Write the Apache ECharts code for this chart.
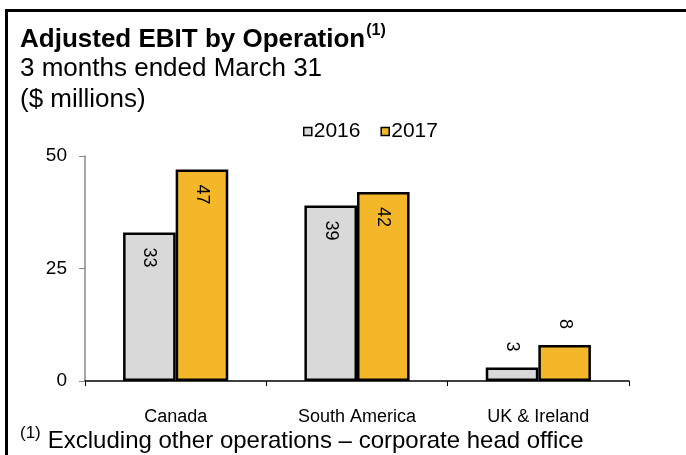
<!DOCTYPE html>
<html>
<head>
<meta charset="utf-8">
<script src="https://cdn.jsdelivr.net/npm/echarts@6/dist/echarts.min.js"></script>
<style>
html,body{margin:0;padding:0;background:#fff;}
#chart{width:686px;height:455px;}
</style>
</head>
<body>
<div id="chart"></div>
<script>
const categories = ['Canada', 'South America', 'UK & Ireland'];
const seriesNames = ['2016', '2017'];
const values2016 = [33, 39, 3];
const values2017 = [47, 42, 8];
const yTicks = [0, 25, 50];

const FONT = 'Liberation Sans, Arial, sans-serif';
const colors = ['#D9D9D9', '#F4B72A'];

function makeData(vals) {
  return vals.map(v => {
    const inside = v > 15;
    return {
      value: v,
      label: inside
        ? { position: 'insideTop', distance: 15, align: 'left', verticalAlign: 'middle' }
        : { position: 'top', distance: 16, align: 'right', verticalAlign: 'middle' }
    };
  });
}

const chart = echarts.init(document.getElementById('chart'), null, { renderer: 'canvas' });
const barStyle = (c) => ({ color: c, borderColor: '#000', borderWidth: 2.5 });
const labelBase = { show: true, rotate: -90, color: '#000', fontSize: 18, fontFamily: FONT };

chart.setOption({
  animation: false,
  backgroundColor: '#fff',
  textStyle: { fontFamily: FONT },
  grid: { left: 85, right: 57, top: 156, bottom: 74, containLabel: false },
  legend: {
    data: seriesNames,
    left: 298, top: 116,
    itemWidth: 8, itemHeight: 8, itemGap: 20,
    icon: 'rect',
    textStyle: { fontSize: 21, color: '#000', fontFamily: FONT, padding: [0, 0, 0, -3] },
    itemStyle: { borderColor: '#000', borderWidth: 1.5 }
  },
  xAxis: {
    type: 'category',
    data: categories,
    axisLine: { lineStyle: { color: '#000', width: 1.5 } },
    axisTick: { show: true, length: 5, lineStyle: { color: '#000' } },
    axisLabel: { color: '#000', fontSize: 18, fontFamily: FONT, margin: 27 }
  },
  yAxis: {
    type: 'value',
    min: yTicks[0], max: yTicks[yTicks.length - 1], interval: yTicks[1] - yTicks[0],
    axisLine: { show: true, lineStyle: { color: '#888', width: 1.5 } },
    axisTick: { show: true, length: 6, lineStyle: { color: '#888' } },
    splitLine: { show: false },
    axisLabel: { color: '#000', fontSize: 19, fontFamily: FONT, margin: 18 }
  },
  series: [
    { name: seriesNames[0], type: 'bar', data: makeData(values2016), barGap: '0%', barCategoryGap: '42%',
      itemStyle: barStyle(colors[0]), label: labelBase },
    { name: seriesNames[1], type: 'bar', data: makeData(values2017), barGap: '0%', barCategoryGap: '42%',
      itemStyle: barStyle(colors[1]), label: labelBase }
  ],
  graphic: [
    { type: 'rect', silent: true, shape: { x: 6.5, y: 10.5, width: 700, height: 500 },
      style: { fill: 'none', stroke: '#000', lineWidth: 3 } },
    { type: 'text', left: 20, top: 23,
      style: { text: '{b|Adjusted EBIT by Operation}{s|(1)}', fill: '#000',
        rich: { b: { fontSize: 26, fontWeight: 'bold', fontFamily: FONT, verticalAlign: 'bottom', lineHeight: 30 },
                s: { fontSize: 16, fontWeight: 'bold', fontFamily: FONT, verticalAlign: 'top', lineHeight: 30, padding: [0, 0, 8, 1] } } } },
    { type: 'text', left: 20, top: 56,
      style: { text: '3 months ended March 31', fill: '#000', font: '26px ' + FONT } },
    { type: 'text', left: 20, top: 87,
      style: { text: '($ millions)', fill: '#000', font: '26px ' + FONT } },
    { type: 'text', left: 20, top: 425,
      style: { text: '{s|(1)}{t|Excluding other operations – corporate head office}', fill: '#000',
        rich: { t: { fontSize: 24, fontFamily: FONT, lineHeight: 28, verticalAlign: 'bottom' },
                s: { fontSize: 17, fontFamily: FONT, lineHeight: 28, verticalAlign: 'top', padding: [0, 7, 0, 0] } } } }
  ]
});
</script>
</body>
</html>
